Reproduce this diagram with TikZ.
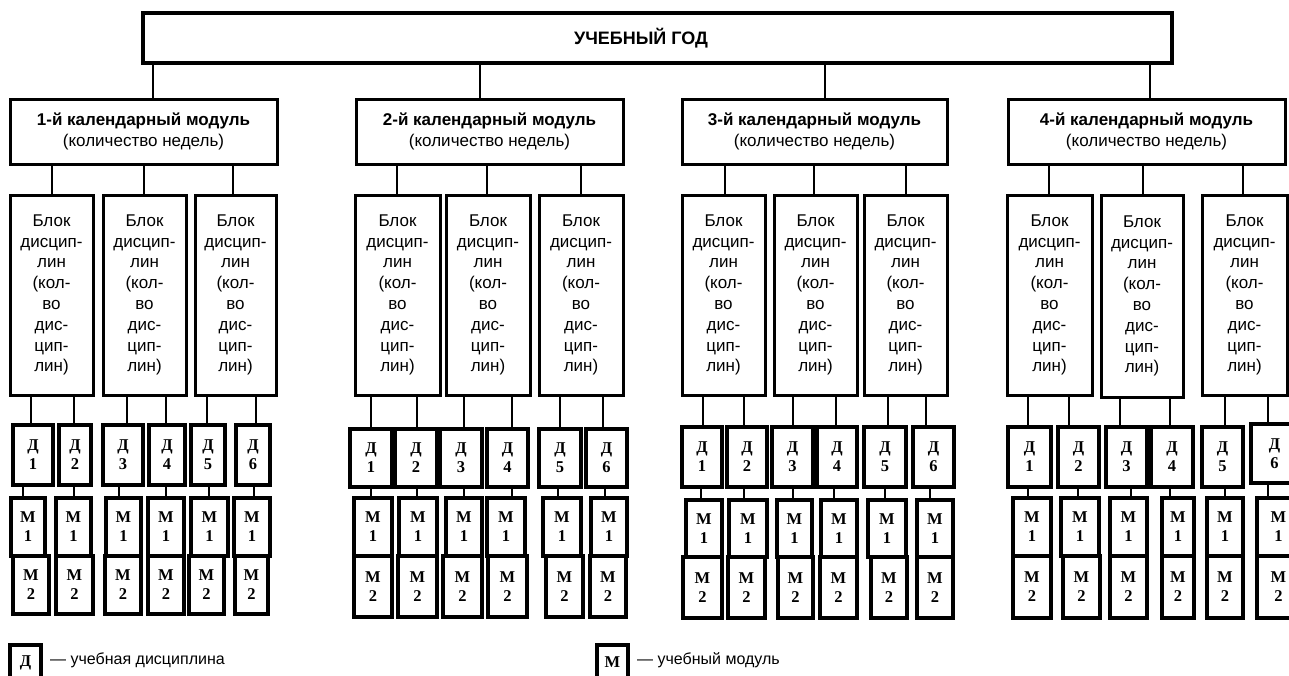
\documentclass[tikz,border=0pt]{standalone}
\usepackage{fontspec}
\setmainfont{Liberation Sans}
\newfontfamily\unitfont{Liberation Serif}

\tikzset{
  yearbox/.style={draw, line width=4.5pt, inner sep=0pt},
  modbox/.style={draw, line width=3pt, inner sep=0pt, align=center,
    font=\fontsize{17}{21}\selectfont},
  blockbox/.style={draw, line width=3pt, inner sep=0pt, align=center,
    font=\fontsize{17}{20.8}\selectfont},
  unitbox/.style={draw, line width=3.5pt, inner sep=0pt, align=center,
    font=\unitfont\bfseries\fontsize{16.5}{19}\selectfont},
  link/.style={line width=1.3pt},
  legendtext/.style={anchor=west, inner sep=0pt, font=\fontsize{16}{19}\selectfont},
}

% box given by its corners: name, style, x1, y1, x2, y2, text
\newcommand\mybox[7]{%
  \pgfmathsetmacro\bxc{(#3+#5)/2}%
  \pgfmathsetmacro\byc{(#4+#6)/2}%
  \pgfmathsetmacro\bwd{#5-#3}%
  \pgfmathsetmacro\bht{#6-#4}%
  \node[#2, minimum width=\bwd pt, minimum height=\bht pt] (#1) at (\bxc,\byc) {#7};%
}
% vertical connector at abscissa #3 from the bottom of #1 to the top of #2
\newcommand\vlink[3]{\draw[link] (#1.south -| #3,0) -- (#2.north -| #3,0);}

\newcommand\blocktext{Блок\\дисцип-\\лин\\(кол-\\во\\дис-\\цип-\\лин)}

\begin{document}
\begin{tikzpicture}[x=1pt, y=-1pt]
\useasboundingbox (0,0) rectangle (1289,675);

% academic year
\mybox{year}{yearbox}{143}{13}{1172}{63}{}
\node[font=\bfseries\fontsize{18}{21}\selectfont] (yeartxt) at (641,38) {УЧЕБНЫЙ ГОД};

% calendar modules
\mybox{mod1}{modbox}{10}{99}{277}{164}{\textbf{1-й календарный модуль}\\(количество недель)}
\mybox{mod2}{modbox}{356}{99}{623}{164}{\textbf{2-й календарный модуль}\\(количество недель)}
\mybox{mod3}{modbox}{682}{99}{947}{164}{\textbf{3-й календарный модуль}\\(количество недель)}
\mybox{mod4}{modbox}{1008}{99}{1285}{164}{\textbf{4-й календарный модуль}\\(количество недель)}

\vlink{year}{mod1}{153}
\vlink{year}{mod2}{480}
\vlink{year}{mod3}{825}
\vlink{year}{mod4}{1150}

% blocks of disciplines
\mybox{b11}{blockbox}{10}{195}{93}{395}{\blocktext}
\mybox{b12}{blockbox}{103}{195}{186}{395}{\blocktext}
\mybox{b13}{blockbox}{195}{195}{276}{395}{\blocktext}
\mybox{b21}{blockbox}{355}{195}{440}{395}{\blocktext}
\mybox{b22}{blockbox}{446}{195}{530}{395}{\blocktext}
\mybox{b23}{blockbox}{539}{195}{623}{395}{\blocktext}
\mybox{b31}{blockbox}{682}{195}{765}{395}{\blocktext}
\mybox{b32}{blockbox}{774}{195}{857}{395}{\blocktext}
\mybox{b33}{blockbox}{864}{195}{947}{395}{\blocktext}
\mybox{b41}{blockbox}{1007}{195}{1092}{395}{\blocktext}
\mybox{b42}{blockbox}{1101}{195}{1183}{397}{\blocktext}
\mybox{b43}{blockbox}{1202}{195}{1287}{395}{\blocktext}

\vlink{mod1}{b11}{52}  \vlink{mod1}{b12}{144}  \vlink{mod1}{b13}{233}
\vlink{mod2}{b21}{397} \vlink{mod2}{b22}{487}  \vlink{mod2}{b23}{581}
\vlink{mod3}{b31}{725} \vlink{mod3}{b32}{814}  \vlink{mod3}{b33}{906}
\vlink{mod4}{b41}{1049} \vlink{mod4}{b42}{1143} \vlink{mod4}{b43}{1243}

% ---- module 1: disciplines and study modules
\mybox{d11}{unitbox}{13}{425}{53}{485}{Д\\1}
\mybox{d12}{unitbox}{59}{425}{91}{485}{Д\\2}
\mybox{d13}{unitbox}{103}{425}{143}{485}{Д\\3}
\mybox{d14}{unitbox}{149}{425}{185}{485}{Д\\4}
\mybox{d15}{unitbox}{191}{425}{225}{485}{Д\\5}
\mybox{d16}{unitbox}{236}{425}{270}{485}{Д\\6}
\mybox{ma11}{unitbox}{11}{498}{45}{556}{М\\1}
\mybox{ma12}{unitbox}{56}{498}{91}{556}{М\\1}
\mybox{ma13}{unitbox}{106}{498}{141}{556}{М\\1}
\mybox{ma14}{unitbox}{148}{498}{184}{556}{М\\1}
\mybox{ma15}{unitbox}{191}{498}{228}{556}{М\\1}
\mybox{ma16}{unitbox}{234}{498}{270}{556}{М\\1}
\mybox{mb11}{unitbox}{13}{556}{49}{614}{М\\2}
\mybox{mb12}{unitbox}{56}{556}{93}{614}{М\\2}
\mybox{mb13}{unitbox}{105}{556}{141}{614}{М\\2}
\mybox{mb14}{unitbox}{148}{556}{184}{614}{М\\2}
\mybox{mb15}{unitbox}{189}{556}{224}{614}{М\\2}
\mybox{mb16}{unitbox}{235}{556}{268}{614}{М\\2}
\vlink{b11}{d11}{31}  \vlink{b11}{d12}{74}
\vlink{b12}{d13}{127} \vlink{b12}{d14}{166}
\vlink{b13}{d15}{207} \vlink{b13}{d16}{256}
\vlink{d11}{ma11}{23}  \vlink{d12}{ma12}{74}  \vlink{d13}{ma13}{119}
\vlink{d14}{ma14}{166} \vlink{d15}{ma15}{209} \vlink{d16}{ma16}{254}

% ---- module 2
\mybox{d21}{unitbox}{350}{429}{392}{487}{Д\\1}
\mybox{d22}{unitbox}{395}{429}{437}{487}{Д\\2}
\mybox{d23}{unitbox}{440}{429}{482}{487}{Д\\3}
\mybox{d24}{unitbox}{487}{429}{528}{487}{Д\\4}
\mybox{d25}{unitbox}{539}{429}{581}{487}{Д\\5}
\mybox{d26}{unitbox}{586}{429}{627}{487}{Д\\6}
\mybox{ma21}{unitbox}{354}{498}{392}{556}{М\\1}
\mybox{ma22}{unitbox}{399}{498}{437}{556}{М\\1}
\mybox{ma23}{unitbox}{446}{498}{482}{556}{М\\1}
\mybox{ma24}{unitbox}{487}{498}{525}{556}{М\\1}
\mybox{ma25}{unitbox}{543}{498}{581}{556}{М\\1}
\mybox{ma26}{unitbox}{591}{498}{627}{556}{М\\1}
\mybox{mb21}{unitbox}{354}{556}{392}{617}{М\\2}
\mybox{mb22}{unitbox}{398}{556}{437}{617}{М\\2}
\mybox{mb23}{unitbox}{443}{556}{482}{617}{М\\2}
\mybox{mb24}{unitbox}{488}{556}{527}{617}{М\\2}
\mybox{mb25}{unitbox}{546}{556}{583}{617}{М\\2}
\mybox{mb26}{unitbox}{590}{556}{626}{617}{М\\2}
\vlink{b21}{d21}{371} \vlink{b21}{d22}{417}
\vlink{b22}{d23}{464} \vlink{b22}{d24}{512}
\vlink{b23}{d25}{560} \vlink{b23}{d26}{603}
\vlink{d21}{ma21}{371} \vlink{d22}{ma22}{417} \vlink{d23}{ma23}{464}
\vlink{d24}{ma24}{512} \vlink{d25}{ma25}{558} \vlink{d26}{ma26}{605}

% ---- module 3
\mybox{d31}{unitbox}{682}{427}{722}{487}{Д\\1}
\mybox{d32}{unitbox}{727}{427}{767}{487}{Д\\2}
\mybox{d33}{unitbox}{772}{427}{813}{487}{Д\\3}
\mybox{d34}{unitbox}{817}{427}{857}{487}{Д\\4}
\mybox{d35}{unitbox}{864}{427}{906}{487}{Д\\5}
\mybox{d36}{unitbox}{913}{427}{954}{487}{Д\\6}
\mybox{ma31}{unitbox}{686}{500}{722}{557}{М\\1}
\mybox{ma32}{unitbox}{729}{500}{767}{557}{М\\1}
\mybox{ma33}{unitbox}{777}{500}{812}{557}{М\\1}
\mybox{ma34}{unitbox}{821}{500}{857}{557}{М\\1}
\mybox{ma35}{unitbox}{868}{500}{906}{557}{М\\1}
\mybox{ma36}{unitbox}{917}{500}{953}{557}{М\\1}
\mybox{mb31}{unitbox}{683}{557}{722}{618}{М\\2}
\mybox{mb32}{unitbox}{728}{557}{765}{618}{М\\2}
\mybox{mb33}{unitbox}{778}{557}{813}{618}{М\\2}
\mybox{mb34}{unitbox}{820}{557}{857}{618}{М\\2}
\mybox{mb35}{unitbox}{871}{557}{907}{618}{М\\2}
\mybox{mb36}{unitbox}{917}{557}{953}{618}{М\\2}
\vlink{b31}{d31}{703} \vlink{b31}{d32}{744}
\vlink{b32}{d33}{793} \vlink{b32}{d34}{836}
\vlink{b33}{d35}{888} \vlink{b33}{d36}{926}
\vlink{d31}{ma31}{701} \vlink{d32}{ma32}{744} \vlink{d33}{ma33}{793}
\vlink{d34}{ma34}{834} \vlink{d35}{ma35}{885} \vlink{d36}{ma36}{930}

% ---- module 4 (last column runs past the right edge)
\mybox{d41}{unitbox}{1008}{427}{1051}{487}{Д\\1}
\mybox{d42}{unitbox}{1058}{427}{1099}{487}{Д\\2}
\mybox{d43}{unitbox}{1106}{427}{1147}{487}{Д\\3}
\mybox{d44}{unitbox}{1151}{427}{1193}{487}{Д\\4}
\mybox{d45}{unitbox}{1202}{427}{1243}{487}{Д\\5}
\mybox{d46}{unitbox}{1251}{424}{1298}{483}{Д\\6}
\mybox{ma41}{unitbox}{1013}{498}{1051}{556}{М\\1}
\mybox{ma42}{unitbox}{1061}{498}{1099}{556}{М\\1}
\mybox{ma43}{unitbox}{1110}{498}{1147}{556}{М\\1}
\mybox{ma44}{unitbox}{1162}{498}{1194}{556}{М\\1}
\mybox{ma45}{unitbox}{1207}{498}{1243}{556}{М\\1}
\mybox{ma46}{unitbox}{1257}{498}{1300}{556}{М\\1}
\mybox{mb41}{unitbox}{1013}{556}{1051}{618}{М\\2}
\mybox{mb42}{unitbox}{1063}{556}{1100}{618}{М\\2}
\mybox{mb43}{unitbox}{1110}{556}{1147}{618}{М\\2}
\mybox{mb44}{unitbox}{1162}{556}{1194}{618}{М\\2}
\mybox{mb45}{unitbox}{1207}{556}{1243}{618}{М\\2}
\mybox{mb46}{unitbox}{1257}{556}{1300}{618}{М\\2}
\vlink{b41}{d41}{1028} \vlink{b41}{d42}{1069}
\vlink{b42}{d43}{1120} \vlink{b42}{d44}{1170}
\vlink{b43}{d45}{1225} \vlink{b43}{d46}{1268}
\vlink{d41}{ma41}{1028} \vlink{d42}{ma42}{1078} \vlink{d43}{ma43}{1131}
\vlink{d44}{ma44}{1170} \vlink{d45}{ma45}{1225} \vlink{d46}{ma46}{1268}

% legend
\mybox{legd}{unitbox}{10}{645}{41}{680}{Д}
\node[legendtext] (legdtxt) at (50,660) {— учебная дисциплина};
\mybox{legm}{unitbox}{597}{645}{628}{680}{М}
\node[legendtext] (legmtxt) at (637,660) {— учебный модуль};
\end{tikzpicture}
\end{document}
